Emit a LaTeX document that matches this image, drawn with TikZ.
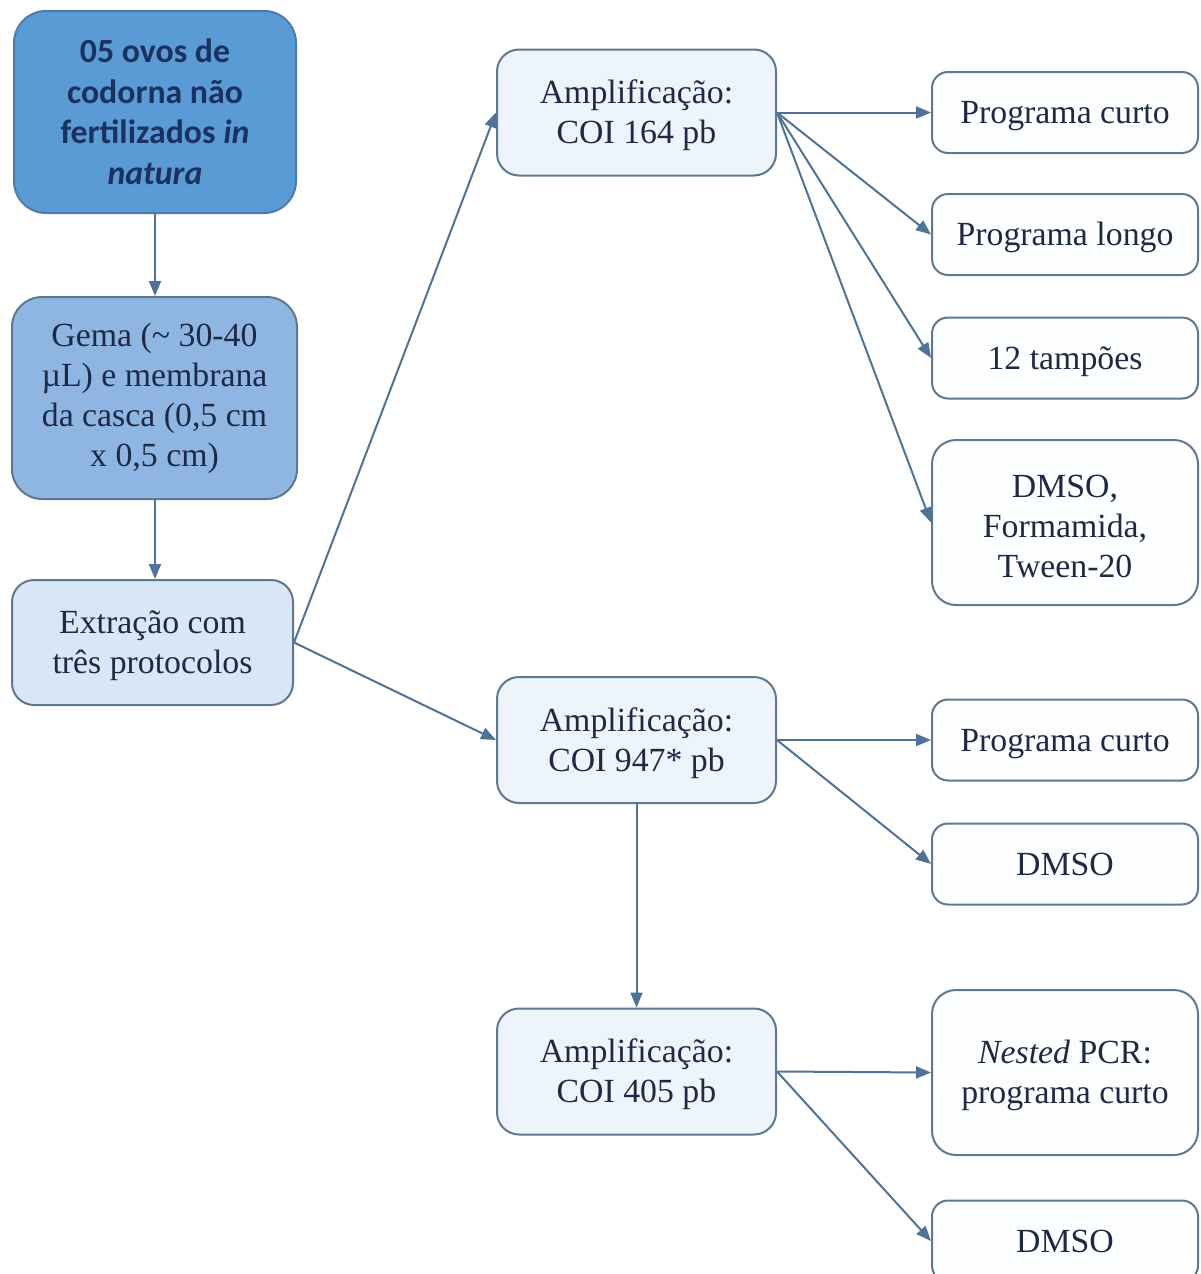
\documentclass[tikz,border=0pt]{standalone}
\usepackage{fontspec}
\setmainfont{LiberationSerif}[Extension=.ttf, UprightFont=*-Regular, ItalicFont=*-Italic, BoldFont=*-Bold, BoldItalicFont=*-BoldItalic]
\newfontfamily\calib{Carlito}
\usetikzlibrary{arrows.meta}
\definecolor{fillA}{HTML}{5B9BD5}
\definecolor{fillB}{HTML}{8FB6E2}
\definecolor{fillC}{HTML}{D9E6F6}
\definecolor{fillD}{HTML}{EEF4FB}
\definecolor{fillR}{HTML}{FDFEFF}
\definecolor{bordA}{HTML}{4A7AAE}
\definecolor{bordc}{HTML}{5E7891}
\definecolor{arrc}{HTML}{4E7397}
\definecolor{txtA}{HTML}{1B3160}
\definecolor{txtc}{HTML}{1E2A45}
\newcommand\lstrut{\rule[-3.65pt]{0pt}{18.71pt}}
\begin{document}
\begin{tikzpicture}[x=0.5pt,y=-0.5pt,
  box/.style={draw=bordc, line width=1pt, align=center, inner sep=0pt,
    font=\fontsize{16.9}{20}\selectfont, text=txtc},
  leftbox/.style={box, minimum width=141pt, rounded corners=14pt},
  ampbox/.style={box, fill=fillD, minimum width=139.5pt, minimum height=63pt, rounded corners=11pt},
  rbox/.style={box, fill=fillR, minimum width=133pt, minimum height=40.5pt, rounded corners=8pt},
  rtall/.style={box, fill=fillR, minimum width=133pt, minimum height=82.5pt, rounded corners=12pt},
  arr/.style={-{Triangle[length=7.5pt,width=6pt]}, draw=arrc, line width=1pt}]
\clip (0,0) rectangle (1200,1274);
\fill[white] (0,0) rectangle (1200,1274);

\node[leftbox, fill=fillA, draw=bordA, minimum height=101pt, text=txtA,
  font=\calib\bfseries\fontsize{16.9}{20.25}\selectfont, rounded corners=16pt] (A) at (155,112)
  {05 ovos de\\codorna não\\fertilizados \textit{in}\\\textit{natura}};
\node[leftbox, fill=fillB, minimum width=142.5pt, minimum height=101pt, rounded corners=15pt] (B) at (154.5,398)
  {Gema (\textasciitilde{} 30-40\\µL) e membrana\\da casca (0,5 cm\\x 0,5 cm)};
\node[leftbox, fill=fillC, minimum width=140.5pt, minimum height=62.5pt, rounded corners=11pt] (C) at (152.5,642.5)
  {\lstrut Extração com\\três protocolos\lstrut};

\node[ampbox] (D) at (636.5,112.5) {\lstrut Amplificação:\\COI 164 pb\lstrut};
\node[ampbox] (E) at (636.5,740) {\lstrut Amplificação:\\COI 947* pb\lstrut};
\node[ampbox] (F) at (636.5,1071.5) {\lstrut Amplificação:\\COI 405 pb\lstrut};

\node[rbox] (R1) at (1065,112.5) {\lstrut Programa curto};
\node[rbox] (R2) at (1065,234.5) {\lstrut Programa longo};
\node[rbox] (R3) at (1065,358) {\lstrut 12 tampões};
\node[rtall] (R4) at (1065,522.5) {\lstrut DMSO,\\Formamida,\\Tween-20};
\node[rbox] (R5) at (1065,740) {\lstrut Programa curto};
\node[rbox] (R6) at (1065,864) {\lstrut DMSO};
\node[rtall] (R7) at (1065,1072.5) {\lstrut\textit{Nested} PCR:\\programa curto\lstrut};
\node[rbox] (R8) at (1065,1241) {\lstrut DMSO};

\draw[arr] (A.south) -- (A.south |- B.north);
\draw[arr] (A.south |- B.south) -- (A.south |- C.north);
\draw[arr] (C.east) -- (D.west);
\draw[arr] (C.east) -- (E.west);
\draw[arr] (D.east) -- (R1.west);
\draw[arr] (D.east) -- (R2.west);
\draw[arr] (D.east) -- (R3.west);
\draw[arr] (D.east) -- (R4.west);
\draw[arr] (E.east) -- (R5.west);
\draw[arr] (E.east) -- (R6.west);
\draw[arr] (E.south) -- (F.north);
\draw[arr] (F.east) -- (R7.west);
\draw[arr] (F.east) -- (R8.west);
\end{tikzpicture}
\end{document}
